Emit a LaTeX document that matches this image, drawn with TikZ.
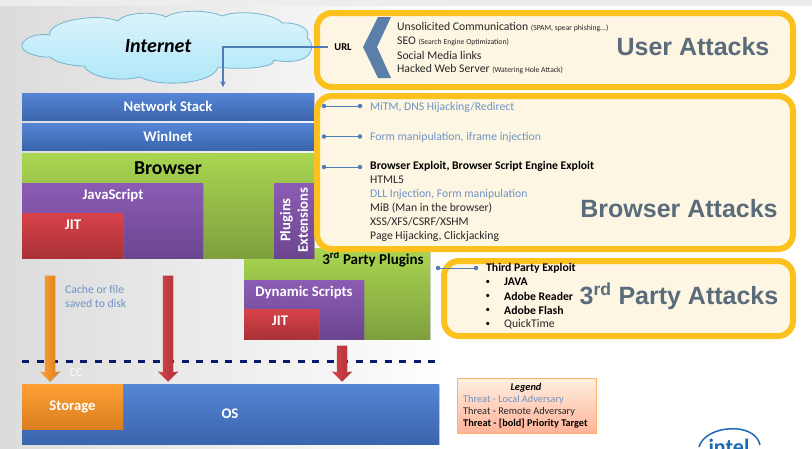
\documentclass[tikz,border=0pt]{standalone}
\usepackage{fontspec}
\setmainfont{Carlito}
\newfontfamily\headfont{Liberation Sans}
\usetikzlibrary{shapes.arrows,shadows}
\definecolor{bluetop}{HTML}{5585D6}
\definecolor{bluelow}{HTML}{3B65AC}
\definecolor{greentop}{HTML}{A9D651}
\definecolor{greenlow}{HTML}{7F9F3E}
\definecolor{purpletop}{HTML}{8C5CB4}
\definecolor{purplelow}{HTML}{6B4690}
\definecolor{redtop}{HTML}{D8424A}
\definecolor{redlow}{HTML}{A93237}
\definecolor{orangetop}{HTML}{FFA035}
\definecolor{orangelow}{HTML}{D97E1E}
\definecolor{attackgold}{HTML}{FDC11E}
\definecolor{attackfill}{HTML}{FDF6E3}
\definecolor{threatblue}{HTML}{6F93C4}
\definecolor{headgrey}{HTML}{5A6B7C}
\definecolor{navyline}{HTML}{0B1A66}
\definecolor{urlblue}{HTML}{4F7DB8}
\definecolor{chevronblue}{HTML}{5B7FA8}
\definecolor{intelblue}{HTML}{1A6AB5}
\definecolor{cloudtop}{HTML}{DDF4FC}
\definecolor{cloudlow}{HTML}{ACE6F8}
\definecolor{cloudline}{HTML}{74B4CC}
\begin{document}
\begin{tikzpicture}[x=1pt,y=-1pt]
	% styles of the boxes
	\tikzstyle{layer} = [rectangle, anchor=north west, inner sep=0pt, outer sep=0pt, text=white, font=\fontsize{14.7}{14.7}\selectfont\bfseries, drop shadow={shadow xshift=1pt,shadow yshift=-1pt,opacity=0.35}]
	\tikzstyle{bluebox} = [layer, top color=bluetop, bottom color=bluelow]
	\tikzstyle{greenbox} = [layer, top color=greentop, middle color=greentop, bottom color=greenlow]
	\tikzstyle{purplebox} = [layer, top color=purpletop, bottom color=purplelow]
	\tikzstyle{redbox} = [layer, top color=redtop, bottom color=redlow]
	\tikzstyle{orangebox} = [layer, top color=orangetop, bottom color=orangelow]
	\tikzstyle{boxtext} = [text=white, font=\fontsize{14.7}{14.7}\selectfont\bfseries]
	\tikzstyle{attack} = [rectangle, anchor=north west, rounded corners=15pt, line width=6pt, draw=attackgold, fill=attackfill, inner sep=0pt]
	\tikzstyle{attackhead} = [text=headgrey, font=\headfont\fontsize{25}{25}\selectfont\bfseries]
	\tikzstyle{item} = [anchor=west, inner sep=0pt, font=\fontsize{11.7}{11.7}\selectfont, text=black!85]
	\tikzstyle{local} = [item, text=threatblue]
	\tikzstyle{strong} = [item, font=\fontsize{11.7}{11.7}\selectfont\bfseries, text=black]
	\tikzstyle{dotmark} = [circle, fill=urlblue, inner sep=0pt, minimum size=4.5pt]
	\tikzstyle{link} = [urlblue, line width=0.7pt]
	\tikzstyle{blockarrow} = [single arrow, rotate=-90, single arrow head extend=5pt, single arrow head indent=1pt, inner ysep=5pt, inner xsep=0pt, minimum width=20pt, drop shadow={shadow xshift=0.5pt,shadow yshift=-0.5pt,opacity=0.3}]

	\useasboundingbox (0,0) rectangle (812,448);

	% page
	\fill [white] (0,0) rectangle (812,448);
	\shade [left color=black!14, right color=white] (0,6) rectangle (450,448);
	\fill [black!7] (0,0) rectangle (812,6);

	% cloud
	\draw [draw=cloudline, line width=0.8pt, top color=cloudtop, bottom color=cloudlow]
		(22,45) .. controls (24,37) and (38,33) .. (50,35)
		.. controls (46,22) and (95,12) .. (118,21)
		.. controls (125,12) and (155,11) .. (166,17)
		.. controls (178,9) and (210,10) .. (222,16)
		.. controls (240,9) and (275,14) .. (282,23)
		.. controls (296,22) and (312,28) .. (307,38)
		.. controls (314,42) and (314,56) .. (300,60)
		.. controls (290,62) and (282,62) .. (274,60)
		.. controls (276,68) and (240,70) .. (218,67)
		.. controls (214,84) and (160,88) .. (140,77)
		.. controls (120,82) and (90,78) .. (84,66)
		.. controls (70,66) and (55,62) .. (50,57)
		.. controls (38,58) and (20,52) .. (22,45) -- cycle;
	\node (internettext) [font=\fontsize{20}{20}\selectfont\bfseries\itshape] at (158,46) {Internet};

	% left stack
	\node (netstack) [bluebox, minimum width=292pt, minimum height=27pt] at (22,93) {Network Stack};
	\node (winnet) [bluebox, minimum width=292pt, minimum height=27pt] at (22,123) {WinInet};
	\node (plugins3rd) [greenbox, minimum width=186pt, minimum height=91pt] at (244,248) {};
	\node (browser) [greenbox, minimum width=292pt, minimum height=105pt] at (22,153) {};
	\node (browsertext) [font=\fontsize{19.7}{19.7}\selectfont\bfseries] at (168,168) {Browser};
	\node (javascript) [purplebox, minimum width=181pt, minimum height=75pt] at (22,183) {};
	\node (javascripttext) [boxtext] at (113,195) {JavaScript};
	\node (jit1) [redbox, minimum width=101pt, minimum height=45pt] at (22,213) {};
	\node (jit1text) [boxtext] at (73,225) {JIT};
	\node (extensions) [purplebox, minimum width=40pt, minimum height=75pt] at (274,183) {};
	\node (extensionstext) [text=white, rotate=90, align=center, font=\fontsize{14.7}{17.5}\selectfont\bfseries] at (294,220) {Plugins\\Extensions};
	\node (plugins3rdtext) [font=\fontsize{15}{15}\selectfont\bfseries] at (373,259) {3\textsuperscript{rd} Party Plugins};
	\node (dynamic) [purplebox, minimum width=120pt, minimum height=59pt] at (244,280) {};
	\node (dynamictext) [boxtext] at (304,292) {Dynamic Scripts};
	\node (jit2) [redbox, minimum width=75pt, minimum height=30pt] at (244,309) {};
	\node (jit2text) [boxtext] at (280,321) {JIT};

	% threat line and os
	\coordinate (dashleft) at (22,361);
	\coordinate (dashright) at (440,361);
	\draw [navyline, line width=3pt, dash pattern=on 7pt off 7.5pt] (dashleft) -- (dashright);
	\node (os) [bluebox, minimum width=417pt, minimum height=60pt] at (22,384) {};
	\node (ostext) [boxtext] at (230,414) {OS};
	\node (storage) [orangebox, minimum width=101pt, minimum height=45pt] at (22,384) {Storage};
	\node (cc) [text=white, font=\fontsize{12}{12}\selectfont] at (76,373) {CC};
	\node (cachearrow) [blockarrow, minimum height=106pt, left color=orangetop, right color=orangelow] at (50,326) {};
	\node (diskarrow) [blockarrow, minimum height=106pt, left color=redtop, right color=redlow] at (168,326) {};
	\node (pluginarrow) [blockarrow, minimum height=36pt, left color=redtop, right color=redlow] at (342,361) {};
	\node (cachetext) [anchor=west, align=left, inner sep=0pt, text=threatblue, font=\fontsize{11.7}{14}\selectfont] at (65,296) {Cache or file\\saved to disk};

	% attack boxes
	\node (userbox) [attack, minimum width=476pt, minimum height=74pt] at (314,10) {};
	\node (browserbox) [attack, minimum width=476pt, minimum height=153pt] at (314,93) {};
	\node (partybox) [attack, minimum width=349pt, minimum height=75pt] at (441,258) {};

	% user attacks
	\node (urltext) [font=\fontsize{10.5}{10.5}\selectfont\bfseries, inner sep=0pt] at (343,47) {URL};
	\coordinate (urlstart) at (328,47);
	\coordinate (turn) at (223,47);
	\coordinate (arrowend) at (223,87);
	\draw [urlblue, line width=1.5pt, -stealth] (urlstart) -- (turn) -- (arrowend);
	\fill [chevronblue] (391,17) -- (377,47) -- (391,78) -- (378,78) -- (363,47) -- (378,17) -- cycle;
	\node (u1) [item] at (397,27) {Unsolicited Communication \fontsize{7.7}{7.7}\selectfont(SPAM, spear phishing...)};
	\node (u2) [item] at (397,41) {SEO \fontsize{7.7}{7.7}\selectfont(Search Engine Optimization)};
	\node (u3) [item] at (397,55) {Social Media links};
	\node (u4) [item] at (397,69) {Hacked Web Server \fontsize{7.7}{7.7}\selectfont(Watering Hole Attack)};
	\node (userhead) [attackhead] at (693,47) {User Attacks};

	% browser attacks
	\node (b1) [local] at (370,107) {MiTM, DNS Hijacking/Redirect};
	\node (b2) [local] at (370,137.5) {Form manipulation, iframe injection};
	\node (b3) [strong] at (370,166) {Browser Exploit, Browser Script Engine Exploit};
	\node (b4) [item] at (370,180) {HTML5};
	\node (b5) [local] at (370,194) {DLL Injection, Form manipulation};
	\node (b6) [item] at (370,208) {MiB (Man in the browser)};
	\node (b7) [item] at (370,222) {XSS/XFS/CSRF/XSHM};
	\node (b8) [item] at (370,236) {Page Hijacking, Clickjacking};
	\node (browserhead) [attackhead] at (679,209) {Browser Attacks};
	\node (d1a) [dotmark] at (324,106) {};
	\node (d1b) [dotmark] at (360,106) {};
	\node (d2a) [dotmark] at (324,136.5) {};
	\node (d2b) [dotmark] at (360,136.5) {};
	\node (d3a) [dotmark] at (324,167) {};
	\node (d3b) [dotmark] at (360,167) {};
	\draw [link] (d1a) -- (d1b);
	\draw [link] (d2a) -- (d2b);
	\draw [link] (d3a) -- (d3b);

	% third party attacks
	\node (t1) [strong] at (486,268) {Third Party Exploit};
	\foreach \ypos/\word in {282/JAVA,296/Adobe Reader,310/Adobe Flash}
		\node [strong] at (504,\ypos) {\word};
	\node (t5) [item] at (504,324) {QuickTime};
	\foreach \ypos in {282,296,310,324}
		\node [item, font=\fontsize{9}{9}\selectfont, text=black] at (485.5,\ypos) {•};
	\node (partyhead) [attackhead] at (679,296) {3\textsuperscript{rd} Party Attacks};
	\node (d4a) [dotmark] at (438,268) {};
	\node (d4b) [dotmark] at (476,268) {};
	\draw [link] (d4a) -- (d4b);

	% legend
	\node (legend) [rectangle, anchor=north west, inner sep=0pt, minimum width=139pt, minimum height=55pt, draw=orange!60, top color=orange!12, bottom color=orange!50!red!40, drop shadow={shadow xshift=1pt,shadow yshift=-1pt,opacity=0.3}] at (457,378) {};
	\node (legendtext) [font=\fontsize{10.3}{10.3}\selectfont\bfseries\itshape] at (526,388) {Legend};
	\node (l1) [local, font=\fontsize{10.3}{10.3}\selectfont] at (463,400) {Threat - Local Adversary};
	\node (l2) [item, font=\fontsize{10.3}{10.3}\selectfont] at (463,412) {Threat - Remote Adversary};
	\node (l3) [strong, font=\fontsize{10.3}{10.3}\selectfont\bfseries] at (463,424) {Threat - [bold] Priority Target};

	% logo at the page edge
	\draw [intelblue, line width=1.5pt] (699,447) .. controls (705,425) and (755,421) .. (760,445);
	\node (intel) [anchor=base, text=intelblue, font=\fontsize{22}{22}\selectfont\bfseries] at (729,454) {intel};
\end{tikzpicture}
\end{document}
